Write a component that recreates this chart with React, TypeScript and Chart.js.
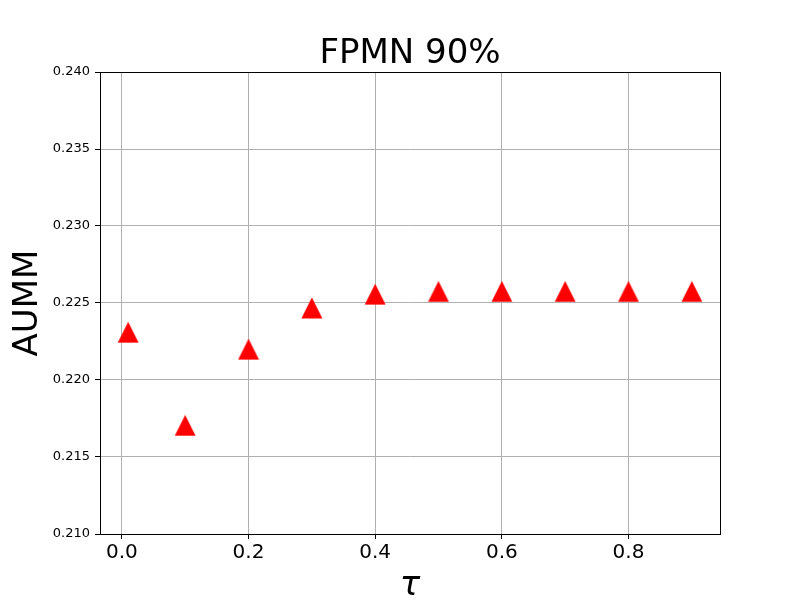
import React, { useEffect, useRef } from "react";
import { Chart, registerables } from "chart.js";

Chart.register(...registerables);

const tauValues = [0.01, 0.1, 0.2, 0.3, 0.4, 0.5, 0.6, 0.7, 0.8, 0.9];
const aummValues = [0.2231, 0.21705, 0.2220, 0.22468, 0.22557, 0.22575, 0.22575, 0.22575, 0.22575, 0.22575];
const xTickValues = [0.0, 0.2, 0.4, 0.6, 0.8];
const yTickValues = [0.21, 0.215, 0.22, 0.225, 0.23, 0.235, 0.24];
const titleText = "FPMN 90%";
const xLabel = "τ";
const yLabel = "AUMM";

function makeTriangle(): HTMLCanvasElement {
  const c = document.createElement("canvas");
  c.width = 22;
  c.height = 22;
  const ctx = c.getContext("2d")!;
  ctx.fillStyle = "#ff0000";
  ctx.beginPath();
  ctx.moveTo(11, 0.5);
  ctx.lineTo(0.5, 21.5);
  ctx.lineTo(21.5, 21.5);
  ctx.closePath();
  ctx.fill();
  return c;
}

const decorPlugin = {
  id: "decor",
  afterDraw(chart: any) {
    const { ctx, chartArea } = chart;
    const { left, right, top, bottom } = chartArea;
    ctx.save();
    ctx.strokeStyle = "#000";
    ctx.lineWidth = 1;
    ctx.strokeRect(Math.round(left) + 0.5, Math.round(top) + 0.5, Math.round(right - left), Math.round(bottom - top));
    ctx.fillStyle = "#000";
    const cx = (left + right) / 2;
    ctx.textAlign = "center";
    ctx.textBaseline = "alphabetic";
    ctx.font = "34px 'DejaVu Sans'";
    ctx.fillText(titleText, cx, 63);
    ctx.font = "italic 34px 'DejaVu Sans'";
    ctx.fillText(xLabel, cx, 595);
    ctx.translate(37, (top + bottom) / 2);
    ctx.rotate(-Math.PI / 2);
    ctx.font = "34px 'DejaVu Sans'";
    ctx.fillText(yLabel, 0, 0);
    ctx.restore();
  },
};

export default function App() {
  const ref = useRef<HTMLCanvasElement | null>(null);
  useEffect(() => {
    document.body.style.margin = "0";
    const tri = makeTriangle();
    const chart = new Chart(ref.current!, {
      type: "scatter",
      data: {
        datasets: [
          {
            data: tauValues.map((x, i) => ({ x, y: aummValues[i] })),
            pointStyle: tri as any,
            backgroundColor: "#ff0000",
            borderColor: "#ff0000",
          },
        ],
      },
      options: {
        animation: false,
        responsive: false,
        layout: { padding: { top: 72, right: 80, left: 0, bottom: 0 } },
        plugins: {
          legend: { display: false },
          tooltip: { enabled: false },
          title: { display: false },
        },
        scales: {
          x: {
            type: "linear",
            min: -0.0345,
            max: 0.9445,
            afterBuildTicks: (s: any) => {
              s.ticks = xTickValues.map((v) => ({ value: v }));
            },
            afterFit: (s: any) => {
              s.height = 66;
            },
            ticks: {
              font: { family: "'DejaVu Sans'", size: 20 },
              color: "#000",
              padding: 2,
              maxRotation: 0,
              autoSkip: false,
              callback: (v: any) => Number(v).toFixed(1),
            },
            grid: { color: "#b0b0b0", lineWidth: 1, tickColor: "#000", tickLength: 5, drawTicks: true },
            border: { color: "#000", width: 1 },
          },
          y: {
            type: "linear",
            min: 0.21,
            max: 0.24,
            afterBuildTicks: (s: any) => {
              s.ticks = yTickValues.map((v) => ({ value: v }));
            },
            afterFit: (s: any) => {
              s.width = 100;
            },
            ticks: {
              font: { family: "'DejaVu Sans'", size: 13 },
              color: "#000",
              padding: 5,
              autoSkip: false,
              callback: (v: any) => Number(v).toFixed(3),
            },
            grid: { color: "#b0b0b0", lineWidth: 1, tickColor: "#000", tickLength: 5, drawTicks: true },
            border: { color: "#000", width: 1 },
          },
        },
      },
      plugins: [decorPlugin],
    });
    return () => chart.destroy();
  }, []);
  return <canvas ref={ref} width={800} height={600} style={{ display: "block" }} />;
}
